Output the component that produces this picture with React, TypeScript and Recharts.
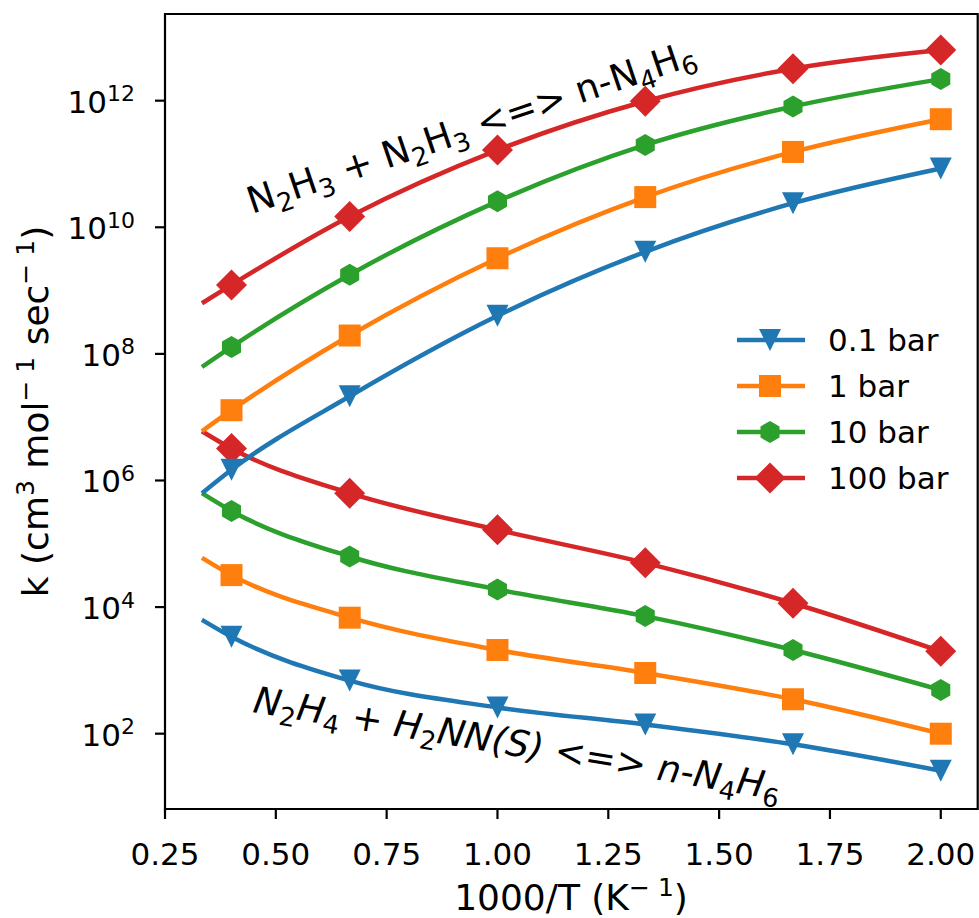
import React from "react";
import { LineChart, Line, XAxis, YAxis, ReferenceArea } from "recharts";

const FONT = "DejaVu Sans";

// temperatures (K) of the computed points; x axis is 1000/T
const temperatures = [3000, 2500, 1500, 1000, 750, 600, 500];
const pressureLabels = ["0.1 bar", "1 bar", "10 bar", "100 bar"];

// N2H3 + N2H3 <=> n-N4H6
const comb01 = [6.3e5, 1.48e6, 2.14e7, 4.0e8, 4.1e9, 2.4e10, 8.5e10];
const comb1 = [6.0e6, 1.29e7, 1.95e8, 3.24e9, 3.0e10, 1.55e11, 5.1e11];
const comb10 = [6.2e7, 1.29e8, 1.78e9, 2.57e10, 2.0e11, 8.1e11, 2.19e12];
const comb100 = [6.3e8, 1.23e9, 1.48e10, 1.66e11, 9.8e11, 3.2e12, 6.3e12];

// N2H4 + H2NN(S) <=> n-N4H6
const ins01 = [6.3e3, 3.4e3, 6.9e2, 2.6e2, 1.4e2, 68, 26];
const ins1 = [6.0e4, 3.2e4, 6.8e3, 2.1e3, 9.1e2, 3.5e2, 1.0e2];
const ins10 = [6.3e5, 3.3e5, 6.3e4, 1.9e4, 7.2e3, 2.1e3, 4.9e2];
const ins100 = [6.0e6, 3.2e6, 6.3e5, 1.66e5, 5.0e4, 1.15e4, 2.0e3];

const xTicks = [0.25, 0.5, 0.75, 1.0, 1.25, 1.5, 1.75, 2.0];
const yTicks = [1e2, 1e4, 1e6, 1e8, 1e10, 1e12];
const xDomain = [0.25, 2.0833];
const yDomain = [6.46, 2.34e13];

const colors = ["#1f77b4", "#ff7f0e", "#2ca02c", "#d62728"];
const markers = ["tri", "square", "hex", "diamond"];

const combSeries = [comb01, comb1, comb10, comb100];
const insSeries = [ins01, ins1, ins10, ins100];

const data = temperatures.map((t, i) => {
  const row: Record<string, number> = { invT: 1000 / t };
  combSeries.forEach((s, j) => (row[`comb${j}`] = s[i]));
  insSeries.forEach((s, j) => (row[`ins${j}`] = s[i]));
  return row;
});

function Marker({ kind, cx, cy, color }: { kind: string; cx: number; cy: number; color: string }) {
  if (kind === "tri") {
    return <polygon points={`${cx - 11},${cy - 11} ${cx + 11},${cy - 11} ${cx},${cy + 11}`} fill={color} />;
  }
  if (kind === "square") {
    return <rect x={cx - 11} y={cy - 11} width={22} height={22} fill={color} />;
  }
  if (kind === "hex") {
    const r = 11;
    const pts = [0, 1, 2, 3, 4, 5]
      .map((k) => {
        const a = (Math.PI / 3) * k - Math.PI / 2;
        return `${cx + r * Math.cos(a)},${cy + r * Math.sin(a)}`;
      })
      .join(" ");
    return <polygon points={pts} fill={color} />;
  }
  const d = 15.5;
  return <polygon points={`${cx},${cy - d} ${cx + d},${cy} ${cx},${cy + d} ${cx - d},${cy}`} fill={color} />;
}

// first point (3000 K) is drawn without a marker
const dotFor = (kind: string, color: string, id: string) => (props: any) => {
  const { cx, cy, index } = props;
  if (index === 0 || cx == null || cy == null) return <g key={`${id}-${index}`} />;
  return (
    <g key={`${id}-${index}`}>
      <Marker kind={kind} cx={cx} cy={cy} color={color} />
    </g>
  );
};

function XTick({ x, y, payload }: any) {
  return (
    <text x={x} y={y + 22} textAnchor="middle" fontFamily={FONT} fontSize={31} fill="#000">
      {Number(payload.value).toFixed(2)}
    </text>
  );
}

function YTick({ x, y, payload }: any) {
  const exp = Math.round(Math.log10(payload.value));
  return (
    <text x={x} y={y + 12} textAnchor="end" fontFamily={FONT} fontSize={31} fill="#000">
      10
      <tspan dy={-11.5} fontSize={22}>
        {exp}
      </tspan>
    </text>
  );
}

const SUB = 8;
function formula(src: string, size: number, italic: boolean) {
  const parts = src.split(/(_\d)/).filter(Boolean);
  let down = false;
  return parts.map((p, i) => {
    if (p.startsWith("_")) {
      const el = (
        <tspan key={i} dy={down ? 0 : SUB} fontSize={size * 0.7} fontStyle="normal">
          {p.slice(1)}
        </tspan>
      );
      down = true;
      return el;
    }
    const el = (
      <tspan key={i} dy={down ? -SUB : 0} fontStyle={italic ? "italic" : "normal"}>
        {p}
      </tspan>
    );
    down = false;
    return el;
  });
}

export default function App() {
  const lineProps = (key: string, j: number) => ({
    dataKey: key,
    type: "monotone" as const,
    stroke: colors[j],
    strokeWidth: 4.5,
    dot: dotFor(markers[j], colors[j], key),
    activeDot: false,
    isAnimationActive: false,
  });

  return (
    <div style={{ position: "absolute", left: 0, top: 0, width: 979, height: 918, background: "#fff" }}>
      <LineChart width={979} height={918} data={data} margin={{ top: 14, right: 1.3, bottom: 0, left: 0 }}>
        <XAxis
          dataKey="invT"
          type="number"
          domain={xDomain}
          allowDataOverflow
          ticks={xTicks}
          height={109}
          tickSize={10}
          tickMargin={24}
          axisLine={false}
          tickLine={{ stroke: "#000", strokeWidth: 2.2 }}
          tick={<XTick />}
        />
        <YAxis
          type="number"
          scale="log"
          domain={yDomain}
          allowDataOverflow
          ticks={yTicks}
          width={165}
          tickSize={10}
          tickMargin={20}
          axisLine={false}
          tickLine={{ stroke: "#000", strokeWidth: 2.2 }}
          tick={<YTick />}
        />
        {insSeries.map((_, j) => (
          <Line key={`ins${j}`} {...lineProps(`ins${j}`, j)} />
        ))}
        {combSeries.map((_, j) => (
          <Line key={`comb${j}`} {...lineProps(`comb${j}`, j)} />
        ))}
        <ReferenceArea
          x1={xDomain[0]}
          x2={xDomain[1]}
          y1={yDomain[0]}
          y2={yDomain[1]}
          fill="none"
          stroke="#000"
          strokeWidth={2.2}
          ifOverflow="visible"
        />
      </LineChart>
      <svg
        width={979}
        height={918}
        style={{ position: "absolute", left: 0, top: 0, pointerEvents: "none" }}
        fontFamily={FONT}
      >
        {/* axis labels */}
        <text x={571} y={910} textAnchor="middle" fontSize={36} fill="#000" style={{ whiteSpace: "pre" }}>
          1000/T (K
          <tspan dy={-14} fontSize={25}>
            − 1
          </tspan>
          <tspan dy={14}>)</tspan>
        </text>
        <text
          transform="translate(48,411.5) rotate(-90)"
          textAnchor="middle"
          fontSize={36}
          fill="#000"
          style={{ whiteSpace: "pre" }}
        >
          k (cm
          <tspan dy={-14} fontSize={25}>3</tspan>
          <tspan dy={14}> mol</tspan>
          <tspan dy={-14} fontSize={25}>− 1</tspan>
          <tspan dy={14}> sec</tspan>
          <tspan dy={-14} fontSize={25}>− 1</tspan>
          <tspan dy={14}>)</tspan>
        </text>

        {/* reaction labels */}
        <text
          transform="translate(252,214) rotate(-18.6)"
          fontSize={36.8}
          fill="#000"
          style={{ whiteSpace: "pre" }}
        >
          {formula("N_2H_3 + N_2H_3 <=> n-N_4H_6", 36.8, false)}
        </text>
        <text
          transform="translate(252,712) rotate(9.5)"
          fontSize={36.8}
          fill="#000"
          style={{ whiteSpace: "pre" }}
        >
          {formula("N_2H_4 + H_2NN(S) <=> n-N_4H_6", 36.8, true)}
        </text>

        {/* legend */}
        {pressureLabels.map((label, j) => {
          const cy = 340 + j * 46;
          return (
            <g key={label}>
              <line x1={737} x2={805} y1={cy} y2={cy} stroke={colors[j]} strokeWidth={4.5} />
              <Marker kind={markers[j]} cx={770} cy={cy} color={colors[j]} />
              <text x={828} y={cy + 11.3} fontSize={31} fill="#000">
                {label}
              </text>
            </g>
          );
        })}
      </svg>
    </div>
  );
}
